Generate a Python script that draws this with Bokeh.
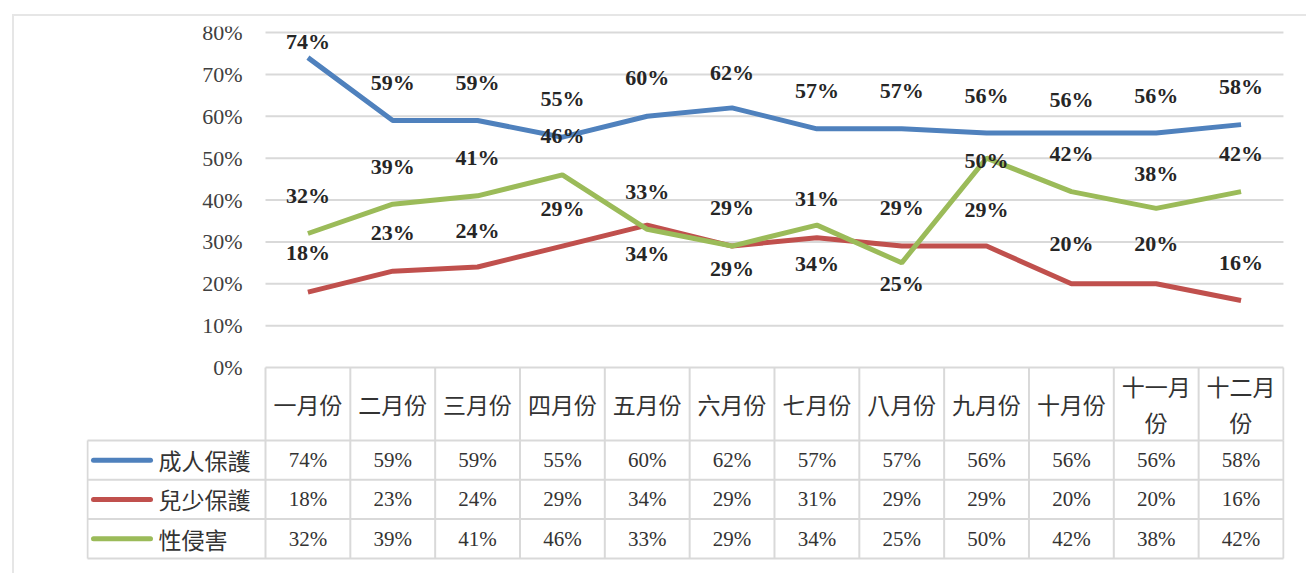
from bokeh.plotting import figure
from bokeh.models import Range1d, FixedTicker, PrintfTickFormatter, ColumnDataSource
from bokeh.core.properties import value
from bokeh.embed import file_html
from bokeh.resources import INLINE

# ---------------- data ----------------
months = ["一月份", "二月份", "三月份", "四月份", "五月份", "六月份",
          "七月份", "八月份", "九月份", "十月份", "十一月\n份", "十二月\n份"]
series_names = ["成人保護", "兒少保護", "性侵害"]
adult = [74, 59, 59, 55, 60, 62, 57, 57, 56, 56, 56, 58]
child = [18, 23, 24, 29, 34, 29, 31, 29, 29, 20, 20, 16]
sexual = [32, 39, 41, 46, 33, 29, 34, 25, 50, 42, 38, 42]
y_ticks = [0, 10, 20, 30, 40, 50, 60, 70, 80]

# ---------------- styles / layout ----------------
colors = ["#4F81BD", "#C0504D", "#9BBB59"]
# data-label vertical offsets in screen px (negative = above point)
adult_lab_dy = [-16, -38, -38, -39, -39, -35, -38, -38, -38, -34, -38, -38]
child_lab_dy = [-40, -39, -37, -38, 28, 22, -39, -39, -37, -40, -40, -38]
sexual_lab_dy = [-38, -38, -38, -39, -38, -39, 38, 21, 2, -38, -35, -38]

SERIF = "Liberation Serif"
CJK = "Noto Sans CJK TC"
GRID = "#d9d9d9"
TXT = "#333333"
W, H = 1306, 573
COL_PX = 84.83           # one month column, px
Y_PX = 4.1875            # px per percentage point
ROW_PX = 39.3            # table row height, px
LEG_W = 178 / COL_PX     # legend column width (month units)

n = len(months)
xs = list(range(n))
series = [adult, child, sexual]
offsets = [adult_lab_dy, child_lab_dy, sexual_lab_dy]
rows = len(series_names)

# frame in px: left 86, right 1284, top 26, bottom 560 ; x=-0.5 at px 265, y=0 at px 367
x_start = -0.5 - (265 - 86) / COL_PX
x_end = -0.5 + (1284 - 265) / COL_PX
y_top = (367 - 26) / Y_PX
y_bottom = -(560 - 367) / Y_PX
y_head = -73 / Y_PX                       # bottom of header row
row_edges = [y_head - k * ROW_PX / Y_PX for k in range(rows + 1)]
row_mid = [(row_edges[k] + row_edges[k + 1]) / 2 for k in range(rows)]
x_left = -0.5 - LEG_W

p = figure(width=W, height=H,
           x_range=Range1d(x_start, x_end), y_range=Range1d(y_bottom, y_top),
           x_axis_location=None, toolbar_location=None, output_backend="svg",
           min_border_left=86, min_border_right=W - 1284, min_border_top=26,
           min_border_bottom=H - 560, outline_line_color=None,
           border_fill_color=None, background_fill_color=None)
p.grid.visible = False

ax = p.yaxis[0]
ax.ticker = FixedTicker(ticks=y_ticks)
ax.formatter = PrintfTickFormatter(format="%d%%")
ax.fixed_location = -0.5
ax.axis_line_color = None
ax.major_tick_line_color = None
ax.minor_tick_line_color = None
ax.major_label_standoff = 17
ax.major_label_text_font = SERIF
ax.major_label_text_font_size = "22px"
ax.major_label_text_color = "#404040"

# horizontal gridlines (chart area only)
p.segment(x0=[-0.5] * len(y_ticks), y0=y_ticks, x1=[n - 0.5] * len(y_ticks), y1=y_ticks,
          line_color=GRID, line_width=2)

# header column borders
bx = [i - 0.5 for i in range(n + 1)]
p.segment(x0=bx, y0=[0] * len(bx), x1=bx, y1=[y_head] * len(bx),
          line_color=GRID, line_width=2)

# series lines
for vals, col in zip(series, colors):
    p.line(xs, vals, line_color=col, line_width=5)

# data labels
for vals, dys in zip(series, offsets):
    src = ColumnDataSource(dict(x=xs, y=vals, t=[f"{v}%" for v in vals], dy=dys))
    p.text(x="x", y="y", text="t", y_offset="dy", source=src,
           text_font=value(SERIF), text_font_style="bold",
           text_font_size="22px", text_color="#262626",
           text_align="center", text_baseline="middle")

# header month names
p.text(x=xs, y=[y_head / 2] * n, text=months,
       text_font=value(CJK), text_font_size="23px", text_color=TXT,
       text_align="center", text_baseline="middle", text_line_height=1.05)

# data table grid
p.segment(x0=[x_left] * (rows + 1), y0=row_edges, x1=[n - 0.5] * (rows + 1), y1=row_edges,
          line_color=GRID, line_width=2)
vx = [x_left] + bx
p.segment(x0=vx, y0=[row_edges[0]] * len(vx), x1=vx, y1=[row_edges[-1]] * len(vx),
          line_color=GRID, line_width=2)

# legend keys + names
p.segment(x0=[x_left + 6 / COL_PX] * rows, y0=row_mid,
          x1=[x_left + 63 / COL_PX] * rows, y1=row_mid,
          line_color=colors, line_width=5, line_cap="round")
p.text(x=[x_left + 71 / COL_PX] * rows, y=row_mid, text=series_names,
       text_font=value(CJK), text_font_size="23px", text_color=TXT,
       text_align="left", text_baseline="middle")

# table values
for r, vals in enumerate(series):
    p.text(x=xs, y=[row_mid[r]] * n, text=[f"{v}%" for v in vals],
           text_font=value(SERIF), text_font_size="21px", text_color=TXT,
           text_align="center", text_baseline="middle")

p.styles = {"box-shadow": "inset 12px 14px 0 0 #ffffff, inset 14px 16px 0 0 #e6e6e6"}

open("out.html", "w").write(file_html(p, INLINE))
